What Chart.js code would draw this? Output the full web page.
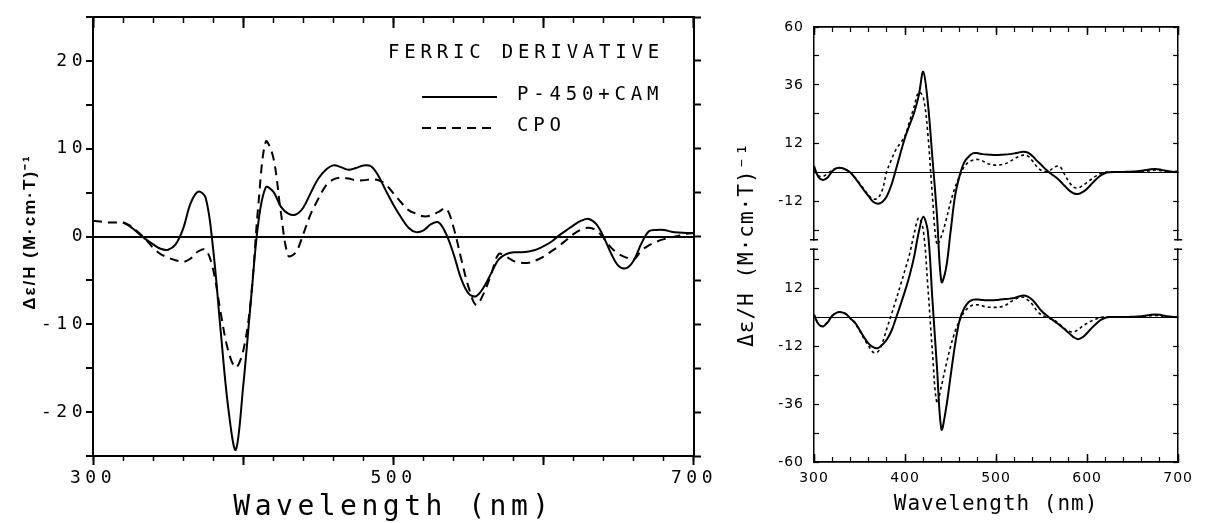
<!DOCTYPE html>
<html>
<head>
<meta charset="utf-8">
<script src="https://cdn.jsdelivr.net/npm/chart.js@4.4.1/dist/chart.umd.min.js"></script>
<style>
  html, body { margin: 0; padding: 0; background: #fff; }
  #wrap { position: relative; width: 1209px; height: 523px; overflow: hidden; }
  canvas { position: absolute; top: 0; }
  #left { left: 0; }
  #right { left: 720px; }
</style>
</head>
<body>
<div id="wrap">
  <canvas id="left" width="720" height="523"></canvas>
  <canvas id="right" width="489" height="523"></canvas>
</div>
<script>
// ── Data ─────────────────────────────────────────────────────
const WAVELENGTHS = [
  300, 305, 310, 315, 320, 325, 330, 335, 340, 345, 350, 355, 360, 365, 370, 375, 380, 385, 390, 395,
  400, 405, 410, 415, 420, 425, 430, 435, 440, 445, 450, 455, 460, 465, 470, 475, 480, 485, 490, 495,
  500, 505, 510, 515, 520, 525, 530, 535, 540, 545, 550, 555, 560, 565, 570, 575, 580, 585, 590, 595,
  600, 605, 610, 615, 620, 625, 630, 635, 640, 645, 650, 655, 660, 665, 670, 675, 680, 685, 690, 695, 700
];

// left panel: ferric derivative
const P450_CAM = [
  null, null, null, null, 1.6, 1.1, 0.4, -0.3, -0.9, -1.4, -1.5, -0.9, 0.9, 3.8, 5.1, 4.4, -1.5, -10.8, -19.5, -24.3,
  -17.0, -7.5, 1.5, 5.6, 5.1, 3.4, 2.6, 2.5, 3.3, 5.0, 6.6, 7.6, 8.1, 7.9, 7.6, 7.8, 8.1, 8.0, 6.9, 5.2,
  3.6, 2.2, 1.0, 0.5, 0.7, 1.4, 1.6, 0.3, -2.0, -4.8, -6.5, -6.8, -5.8, -4.2, -2.6, -2.0, -1.8, -1.8, -1.7, -1.5,
  -1.1, -0.6, 0.1, 0.7, 1.3, 1.8, 2.0, 1.4, -0.1, -2.0, -3.4, -3.6, -2.7, -0.8, 0.6, 0.75, 0.75, 0.55, 0.45, 0.4, 0.4
];
const CPO = [
  1.8, 1.7, 1.6, 1.6, 1.6, 1.2, 0.5, -0.3, -1.3, -2.0, -2.4, -2.7, -2.9, -2.5, -1.7, -1.5, -3.8, -8.7, -13.0, -14.9,
  -13.0, -7.3, 3.5, 10.8, 9.0, 2.8, -2.2, -1.8, 0.3, 2.6, 4.3, 5.8, 6.5, 6.7, 6.6, 6.4, 6.4, 6.5, 6.4, 5.9,
  4.9, 3.9, 3.0, 2.6, 2.3, 2.4, 2.8, 3.2, 1.0, -2.5, -5.8, -7.8, -6.5, -4.3, -2.0, -2.3, -2.8, -3.0, -3.0, -2.7,
  -2.3, -1.7, -1.1, -0.4, 0.3, 0.8, 1.0, 0.7, -0.2, -1.3, -2.0, -2.4, -2.6, -1.6, -1.0, -0.6, -0.3, -0.1, 0.1, 0.3, 0.4
];

// right panel: two stacked pairs (the top pair is drawn shifted up by TOP_SHIFT)
const TOP_SOLID = [
  2.5, -2.2, -3.3, -2.3, 0.3, 1.6, 1.7, 1.0, -0.2, -2.4, -5.0, -7.6, -10.0, -12.3, -13.1, -12.4, -10.0, -5.4, 1.0, 7.8,
  14.3, 19.5, 24.5, 31.5, 41.5, 28.8, 6.2, -17.4, -45.5, -40.0, -24.8, -9.8, -1.5, 4.0, 6.4, 7.8, 7.8, 7.4, 7.2, 7.1,
  7.0, 7.1, 7.2, 7.4, 7.7, 8.1, 8.4, 8.0, 6.6, 4.6, 2.8, 0.9, -0.6, -2.0, -3.6, -5.6, -7.5, -8.8, -9.1, -8.3,
  -6.9, -4.9, -3.0, -1.4, -0.4, -0.1, 0, 0, 0, 0.1, 0.2, 0.3, 0.5, 0.8, 1.1, 1.2, 1.0, 0.6, 0.3, 0, 0.3
];
const TOP_DOTTED = [
  0.5, -1.6, -1.8, -0.6, 0.8, 1.6, 1.7, 1.0, -0.3, -2.3, -4.6, -7.2, -9.6, -11.2, -10.8, -7.5, 0.3, 5.0, 9.3, 12.0,
  15.0, 21.0, 27.0, 33.0, 31.0, 16.0, -9.5, -30.0, -26.5, -20.0, -12.5, -6.3, -1.7, 2.2, 4.1, 5.0, 5.2, 4.6, 3.6, 3.1,
  2.8, 3.0, 3.4, 4.3, 5.4, 6.4, 7.0, 6.6, 4.6, 2.1, 0.6, 0.1, 0.9, 2.2, 2.3, -0.8, -4.0, -6.2, -6.6, -5.6,
  -4.3, -2.9, -1.6, -0.6, -0.1, 0, 0, 0, 0, 0, 0, 0, 0, 0.3, 0.6, 0.8, 0.6, 0.3, 0.1, 0, 0
];
const BOTTOM_SOLID = [
  1.0, -3.0, -3.9, -2.2, 0.5, 1.8, 2.0, 1.3, -0.6, -2.3, -5.3, -8.4, -11.0, -12.5, -12.9, -11.5, -9.3, -5.8, -0.5, 5.0,
  10.8, 17.2, 25.0, 35.0, 41.5, 35.5, 7.7, -20.3, -46.5, -38.0, -24.6, -11.3, -1.2, 3.6, 6.2, 7.2, 7.2, 7.0, 6.9, 6.9,
  7.0, 7.2, 7.4, 7.6, 7.9, 8.5, 8.9, 8.4, 7.0, 4.8, 2.5, 0.8, -0.6, -2.0, -3.4, -5.0, -6.6, -8.3, -9.2, -8.4,
  -6.6, -4.6, -2.8, -1.2, -0.3, 0, 0, 0, 0, 0, 0.1, 0.2, 0.3, 0.6, 0.9, 1.0, 0.9, 0.5, 0.2, 0, 0
];
const BOTTOM_DOTTED = [
  1.0, -3.0, -3.7, -2.0, 0.5, 1.8, 2.0, 1.2, -0.6, -2.6, -5.6, -9.0, -12.0, -14.6, -14.5, -10.8, -4.8, 1.0, 7.0, 13.2,
  19.5, 26.0, 34.5, 41.0, 36.0, 13.0, -14.0, -35.5, -28.5, -20.0, -12.3, -6.0, -1.4, 2.0, 4.0, 5.0, 5.0, 4.6, 4.1, 4.0,
  4.0, 4.2, 4.8, 6.0, 7.2, 8.0, 8.2, 7.0, 5.2, 2.5, 0.8, -0.1, -0.8, -1.6, -3.0, -4.8, -5.9, -6.2, -5.3, -3.8,
  -2.6, -1.6, -0.8, -0.1, 0, 0, 0, 0, 0, 0, 0, 0, 0, 0.3, 0.5, 0.6, 0.5, 0.3, 0, 0, 0
];
const TOP_SHIFT = 60;

// tick labels
const LEFT_X_LABELS = [300, 500, 700];
const LEFT_Y_LABELS = [-20, -10, 0, 10, 20];
const RIGHT_Y_TICK_VALUES = [-60, -36, -12, 12, 48, 72, 96, 120];
const RIGHT_Y_TICK_TEXT = ['-60', '-36', '-12', '12', '-12', '12', '36', '60'];
const RIGHT_BREAK = [28, 32];

const LEGEND_TITLE = 'FERRIC DERIVATIVE';
const X_TITLE = 'Wavelength (nm)';
const Y_TITLE = 'Δε/H (M·cm·T)⁻¹';

// ── Helpers ──────────────────────────────────────────────────
const MONO = "'DejaVu Sans Mono', monospace";
const SANS = "'DejaVu Sans', sans-serif";
const toPoints = (ys, shift = 0) => WAVELENGTHS.map((x, i) => ({ x, y: ys[i] === null ? null : ys[i] + shift }));
const fixedSize = size => scale => { if (scale.isHorizontal()) scale.height = size; else scale.width = size; };
const hidden = { display: false };

const spacingPlugin = {
  id: 'spacing',
  beforeLayout(chart, args, opts) { chart.ctx.letterSpacing = (opts.px || 0) + 'px'; },
  beforeDraw(chart, args, opts) { chart.ctx.letterSpacing = (opts.px || 0) + 'px'; }
};

// legend box + rotated y title for the left panel
const insetPlugin = {
  id: 'inset',
  afterDraw(chart, args, o) {
    const ctx = chart.ctx;
    ctx.save();
    ctx.fillStyle = '#000';
    ctx.strokeStyle = '#000';
    ctx.textBaseline = 'middle';
    ctx.textAlign = 'left';
    ctx.letterSpacing = o.spacing + 'px';
    ctx.font = o.font;
    ctx.fillText(o.title, o.titleX, o.titleY);
    chart.data.datasets.forEach((ds, i) => {
      const y = o.rowY[i];
      ctx.lineWidth = ds.borderWidth;
      ctx.setLineDash(ds.borderDash || []);
      ctx.beginPath();
      ctx.moveTo(o.lineX0, y);
      ctx.lineTo(o.lineX1, y);
      ctx.stroke();
      ctx.fillText(ds.label, o.textX, y - 2);
    });
    ctx.setLineDash([]);
    // y title
    ctx.translate(o.yTitleX, o.yTitleY);
    ctx.rotate(-Math.PI / 2);
    ctx.textAlign = 'center';
    ctx.letterSpacing = o.yTitleSpacing + 'px';
    ctx.font = o.yTitleFont;
    ctx.fillText(Y_TITLE, 0, 0);
    ctx.restore();
  }
};

// axis break marks on the right panel
const breakPlugin = {
  id: 'axisBreak',
  afterDraw(chart, args, o) {
    const ctx = chart.ctx;
    const yS = chart.scales.y;
    const yA = yS.getPixelForValue(o.range[0]);
    const yB = yS.getPixelForValue(o.range[1]);
    ctx.save();
    ctx.letterSpacing = '0px';
    [chart.chartArea.left, chart.chartArea.right].forEach(x => {
      ctx.fillStyle = '#fff';
      ctx.fillRect(x - 3, yB + 1, 6, yA - yB - 2);
      ctx.strokeStyle = '#000';
      ctx.lineWidth = 1.5;
      ctx.beginPath();
      ctx.moveTo(x - 4, yA); ctx.lineTo(x + 4, yA);
      ctx.moveTo(x - 4, yB); ctx.lineTo(x + 4, yB);
      ctx.stroke();
    });
    ctx.restore();
  }
};

const BASE = {
  responsive: false,
  animation: false,
  devicePixelRatio: 1,
  layout: { padding: 0 },
  events: [],
  elements: { point: { radius: 0 }, line: { tension: 0.35 } },
};

// ── Left panel ───────────────────────────────────────────────
const frameL = { display: true, color: '#000', width: 2 };
const tickFontL = { family: MONO, size: 18 };

new Chart(document.getElementById('left'), {
  type: 'line',
  plugins: [spacingPlugin, insetPlugin],
  data: {
    datasets: [
      { label: 'P-450+CAM', data: toPoints(P450_CAM), borderColor: '#000', borderWidth: 2 },
      { label: 'CPO', data: toPoints(CPO), borderColor: '#000', borderWidth: 2, borderDash: [9, 6] }
    ]
  },
  options: {
    ...BASE,
    plugins: {
      legend: hidden, tooltip: { enabled: false },
      spacing: { px: 4.5 },
      inset: {
        title: LEGEND_TITLE, font: `19px ${MONO}`, spacing: 4.8,
        titleX: 388, titleY: 53, lineX0: 422, lineX1: 497, textX: 517, rowY: [97, 128],
        yTitleX: 30, yTitleY: 232, yTitleFont: `bold 17px 'Liberation Sans', sans-serif`, yTitleSpacing: 2
      }
    },
    scales: {
      x: {
        type: 'linear', position: 'bottom', weight: 1, min: 300, max: 700,
        ticks: { stepSize: 100, autoSkip: false, maxRotation: 0, padding: 3, color: '#000', font: tickFontL,
          callback: v => LEFT_X_LABELS.includes(v) ? String(v) : '' },
        grid: { drawOnChartArea: false, tickLength: 9, tickColor: '#000', tickWidth: 2 },
        border: frameL,
        title: { display: true, text: X_TITLE, color: '#000', font: { family: MONO, size: 28, lineHeight: 1 }, padding: { top: 0, bottom: 1 } },
        afterFit: fixedSize(67)
      },
      xMinor: {
        type: 'linear', position: 'bottom', weight: 0, min: 300, max: 700,
        ticks: { stepSize: 20, display: false },
        grid: { drawOnChartArea: false, tickLength: 5, tickColor: '#000', tickWidth: 1.5 },
        border: frameL, afterFit: fixedSize(0)
      },
      xTop: {
        type: 'linear', position: 'top', weight: 1, min: 300, max: 700,
        ticks: { stepSize: 100, display: false },
        grid: { drawOnChartArea: false, tickLength: -11, tickColor: '#000', tickWidth: 2 },
        border: frameL, afterFit: fixedSize(17)
      },
      xTopMinor: {
        type: 'linear', position: 'top', weight: 0, min: 300, max: 700,
        ticks: { stepSize: 20, display: false },
        grid: { drawOnChartArea: false, tickLength: -6, tickColor: '#000', tickWidth: 1.5 },
        border: frameL, afterFit: fixedSize(0)
      },
      y: {
        type: 'linear', position: 'left', min: -25, max: 25,
        ticks: { stepSize: 5, autoSkip: false, padding: -1, color: '#000', font: tickFontL,
          callback: v => LEFT_Y_LABELS.includes(v) ? String(v) : '' },
        grid: { drawOnChartArea: true, tickLength: 7, tickColor: '#000', tickWidth: 2,
          color: c => c.tick && c.tick.value === 0 ? '#000' : 'rgba(0,0,0,0)', lineWidth: 2 },
        border: frameL, afterFit: fixedSize(93)
      },
      y2: {
        type: 'linear', position: 'right', min: -25, max: 25,
        ticks: { stepSize: 5, display: false },
        grid: { drawOnChartArea: false, tickLength: 7, tickColor: '#000', tickWidth: 2 },
        border: frameL, afterFit: fixedSize(21)
      }
    }
  }
});

// ── Right panel ──────────────────────────────────────────────
const frameR = { display: true, color: '#000', width: 1.5 };

new Chart(document.getElementById('right'), {
  type: 'line',
  plugins: [spacingPlugin, breakPlugin],
  data: {
    datasets: [
      { label: 'top solid', data: toPoints(TOP_SOLID, TOP_SHIFT), borderColor: '#000', borderWidth: 2 },
      { label: 'top dotted', data: toPoints(TOP_DOTTED, TOP_SHIFT), borderColor: '#000', borderWidth: 1.6, borderDash: [3, 3] },
      { label: 'bottom solid', data: toPoints(BOTTOM_SOLID), borderColor: '#000', borderWidth: 2 },
      { label: 'bottom dotted', data: toPoints(BOTTOM_DOTTED), borderColor: '#000', borderWidth: 1.6, borderDash: [3, 3] }
    ]
  },
  options: {
    ...BASE,
    plugins: {
      legend: hidden, tooltip: { enabled: false },
      spacing: { px: 1 },
      axisBreak: { range: RIGHT_BREAK }
    },
    scales: {
      x: {
        type: 'linear', position: 'bottom', weight: 1, min: 300, max: 700,
        ticks: { stepSize: 100, autoSkip: false, maxRotation: 0, padding: 16, color: '#000', font: { family: SANS, size: 14 } },
        grid: { drawOnChartArea: false, tickLength: -8, tickColor: '#000', tickWidth: 1.5 },
        border: frameR,
        title: { display: true, text: X_TITLE, color: '#000', font: { family: MONO, size: 21, lineHeight: 1 }, padding: { top: 0, bottom: 8 } },
        afterFit: fixedSize(61)
      },
      xMinor: {
        type: 'linear', position: 'bottom', weight: 0, min: 300, max: 700,
        ticks: { stepSize: 20, display: false },
        grid: { drawOnChartArea: false, tickLength: -5, tickColor: '#000', tickWidth: 1.2 },
        border: frameR, afterFit: fixedSize(0)
      },
      xTop: {
        type: 'linear', position: 'top', weight: 1, min: 300, max: 700,
        ticks: { stepSize: 100, display: false },
        grid: { drawOnChartArea: false, tickLength: -8, tickColor: '#000', tickWidth: 1.5 },
        border: frameR, afterFit: fixedSize(27)
      },
      xTopMinor: {
        type: 'linear', position: 'top', weight: 0, min: 300, max: 700,
        ticks: { stepSize: 20, display: false },
        grid: { drawOnChartArea: false, tickLength: -5, tickColor: '#000', tickWidth: 1.2 },
        border: frameR, afterFit: fixedSize(0)
      },
      y: {
        type: 'linear', position: 'left', min: -60, max: 120,
        ticks: { stepSize: 12, autoSkip: false, padding: 15, color: '#000', font: { family: SANS, size: 14 },
          callback: v => { const i = RIGHT_Y_TICK_VALUES.indexOf(v); return i >= 0 ? RIGHT_Y_TICK_TEXT[i] : ''; } },
        grid: { drawOnChartArea: true, tickLength: -5, tickColor: '#000', tickWidth: 1.2,
          color: c => c.tick && (c.tick.value === 0 || c.tick.value === TOP_SHIFT) ? '#000' : 'rgba(0,0,0,0)', lineWidth: 1 },
        border: frameR,
        title: { display: true, text: Y_TITLE, color: '#000', font: { family: MONO, size: 21, lineHeight: 1 }, padding: { top: 17, bottom: 0 } },
        afterFit: fixedSize(94)
      },
      y2: {
        type: 'linear', position: 'right', min: -60, max: 120,
        ticks: { stepSize: 12, display: false },
        grid: { drawOnChartArea: false, tickLength: -5, tickColor: '#000', tickWidth: 1.2 },
        border: frameR, afterFit: fixedSize(12)
      }
    }
  }
});
</script>
</body>
</html>
